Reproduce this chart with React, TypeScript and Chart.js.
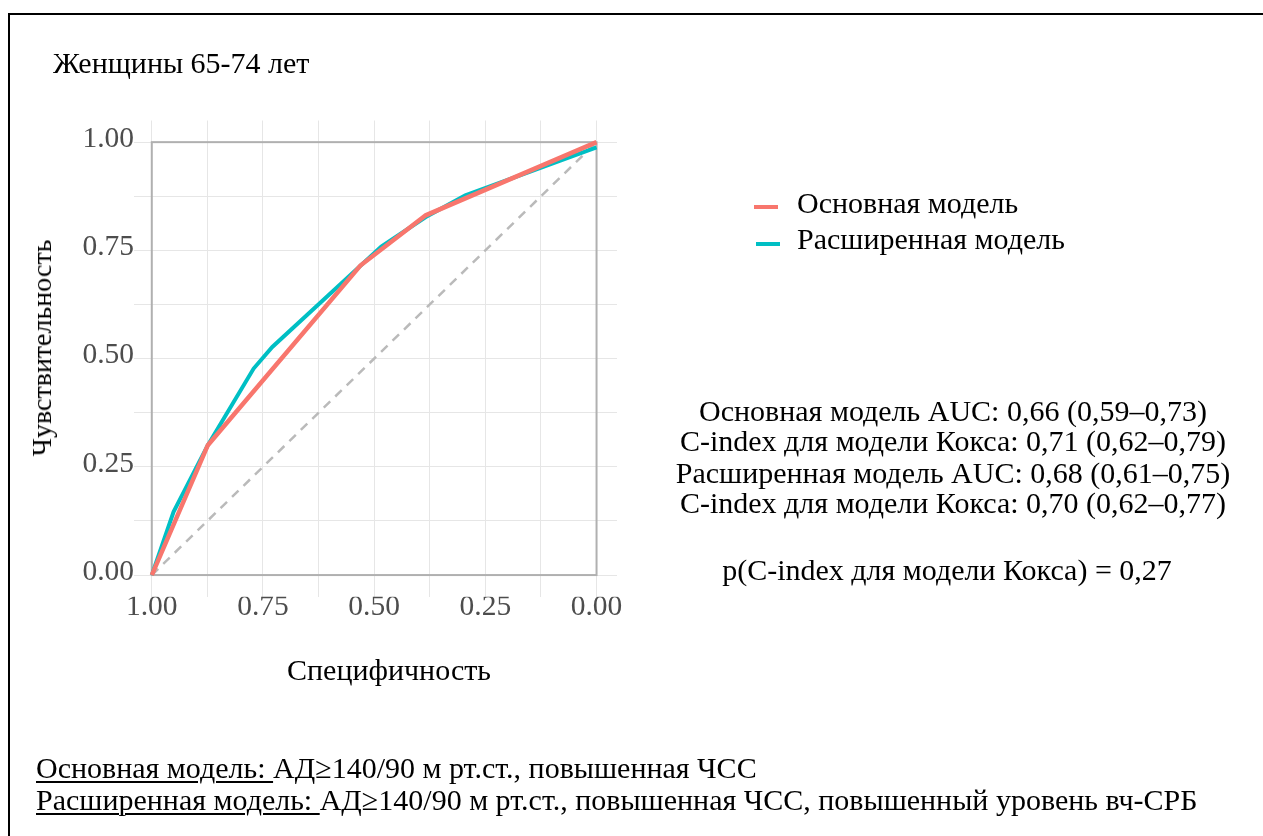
import React, { useEffect, useRef } from "react";
import { Chart, registerables } from "chart.js";

Chart.register(...registerables);

// ---- Data ----
const specBase = [1.0, 0.874, 0.531, 0.384, 0.0];
const sensBase = [0.0, 0.3, 0.715, 0.831, 1.0];

const specExt = [1.0, 0.951, 0.874, 0.771, 0.729, 0.484, 0.384, 0.295, 0.0];
const sensExt = [0.0, 0.146, 0.3, 0.477, 0.527, 0.759, 0.827, 0.877, 0.988];

const diagSpec = [1.0, 0.0];
const diagSens = [0.0, 1.0];

const tickValues = [0, 0.125, 0.25, 0.375, 0.5, 0.625, 0.75, 0.875, 1.0];
const labeledTicks = [0, 0.25, 0.5, 0.75, 1.0];

const seriesNames = ["Основная модель", "Расширенная модель"];
const seriesColors = ["#F8766D", "#00BFC4"];

const titleText = "Женщины 65-74 лет";
const xTitle = "Специфичность";
const yTitle = "Чувствительность";
const statLines = [
  "Основная модель AUC: 0,66 (0,59–0,73)",
  "C-index для модели Кокса: 0,71 (0,62–0,79)",
  "Расширенная модель AUC: 0,68 (0,61–0,75)",
  "C-index для модели Кокса: 0,70 (0,62–0,77)",
];
const pText = "p(C-index для модели Кокса) = 0,27";
const footLabels = ["Основная модель: ", "Расширенная модель: "];
const footTexts = [
  "АД≥140/90 м рт.ст., повышенная ЧСС",
  "АД≥140/90 м рт.ст., повышенная ЧСС, повышенный уровень вч-СРБ",
];

const FONT = '"Liberation Serif", "Times New Roman", serif';
const FS = 30;
const TICK_FS = 29.5;
const BASE = 0.8375 * FS;

const toPts = (xs: number[], ys: number[]) => xs.map((x, i) => ({ x, y: ys[i] }));

const framePlugin = {
  id: "frame",
  beforeDatasetsDraw(chart: any) {
    const { ctx, scales } = chart;
    const x0 = scales.x.getPixelForValue(1);
    const x1 = scales.x.getPixelForValue(0);
    const y0 = scales.y.getPixelForValue(0);
    const y1 = scales.y.getPixelForValue(1);
    ctx.save();
    ctx.strokeStyle = "#b0b0b0";
    ctx.lineWidth = 2;
    ctx.strokeRect(x0, y1, x1 - x0, y0 - y1);
    ctx.restore();
  },
};

export default function App() {
  const ref = useRef<HTMLCanvasElement>(null);

  useEffect(() => {
    document.body.style.margin = "0";
    document.body.style.overflow = "hidden";
    const setTicks = (scale: any) => {
      scale.ticks = tickValues.map((v) => ({ value: v }));
    };
    const label = (v: any) => {
      const n = Number(v);
      return labeledTicks.some((t) => Math.abs(t - n) < 1e-6) ? n.toFixed(2) : "";
    };
    const chart = new Chart(ref.current as HTMLCanvasElement, {
      type: "line",
      data: {
        datasets: [
          {
            label: seriesNames[0],
            data: toPts(specBase, sensBase),
            borderColor: seriesColors[0],
            borderWidth: 4.5,
            pointRadius: 0,
            tension: 0,
          },
          {
            label: seriesNames[1],
            data: toPts(specExt, sensExt),
            borderColor: seriesColors[1],
            borderWidth: 4,
            pointRadius: 0,
            tension: 0,
          },
          {
            label: "diag",
            data: toPts(diagSpec, diagSens),
            borderColor: "#bababa",
            borderWidth: 2.5,
            borderDash: [9, 7],
            pointRadius: 0,
          },
        ],
      },
      options: {
        responsive: false,
        animation: false,
        layout: { padding: { left: 0, top: 120.5, right: 1263 - 617, bottom: 0 } },
        plugins: { legend: { display: false }, tooltip: { enabled: false } },
        scales: {
          x: {
            type: "linear",
            reverse: true,
            min: -0.046,
            max: 1.04,
            afterBuildTicks: setTicks,
            afterFit: (s: any) => {
              s.height = 836 - 596.7;
            },
            border: { display: false },
            grid: { color: "#e6e6e6", lineWidth: 1, drawTicks: false },
            ticks: {
              callback: label,
              autoSkip: false,
              maxRotation: 0,
              padding: -4.5,
              color: "#4d4d4d",
              font: { family: FONT, size: TICK_FS, lineHeight: 1 },
            },
          },
          y: {
            type: "linear",
            min: -0.05,
            max: 1.05,
            afterBuildTicks: setTicks,
            afterFit: (s: any) => {
              s.width = 134;
            },
            border: { display: false },
            grid: { color: "#e6e6e6", lineWidth: 1, drawTicks: false },
            ticks: {
              callback: label,
              autoSkip: false,
              padding: 0,
              labelOffset: -3,
              color: "#4d4d4d",
              font: { family: FONT, size: TICK_FS },
            },
          },
        },
      },
      plugins: [framePlugin],
    });
    return () => chart.destroy();
  }, []);

  const txt = (extra: React.CSSProperties): React.CSSProperties => ({
    position: "absolute",
    whiteSpace: "nowrap",
    fontSize: FS,
    lineHeight: `${FS}px`,
    color: "#000",
    ...extra,
  });

  const statBaselines = [421, 451, 483, 513];

  return (
    <div
      style={{
        position: "relative",
        width: 1263,
        height: 836,
        overflow: "hidden",
        background: "#fff",
        fontFamily: FONT,
      }}
    >
      <div
        style={{
          position: "absolute",
          left: 8,
          top: 13,
          width: 1320,
          height: 900,
          border: "2px solid #000",
          boxSizing: "border-box",
        }}
      />
      <canvas
        ref={ref}
        width={1263}
        height={836}
        style={{ position: "absolute", left: 0, top: 0, width: 1263, height: 836 }}
      />
      <div style={txt({ left: 53, top: 73 - BASE })}>{titleText}</div>

      {seriesNames.map((n, i) => (
        <React.Fragment key={n}>
          <div
            style={{
              position: "absolute",
              left: 754 + i * 2,
              top: (i === 0 ? 207 : 244) - 2,
              width: 24,
              height: 4,
              background: seriesColors[i],
            }}
          />
          <div style={txt({ left: 797, top: (i === 0 ? 212.7 : 249) - BASE })}>{n}</div>
        </React.Fragment>
      ))}

      {statLines.map((s, i) => (
        <div
          key={i}
          style={txt({ left: 953 - 400, width: 800, textAlign: "center", top: statBaselines[i] - BASE })}
        >
          {s}
        </div>
      ))}
      <div style={txt({ left: 947 - 400, width: 800, textAlign: "center", top: 580 - BASE })}>{pText}</div>

      <div style={txt({ left: 389, top: 670, transform: "translate(-50%, -50%)" })}>{xTitle}</div>
      <div
        style={txt({
          left: 42,
          top: 348,
          fontSize: 28,
          lineHeight: "28px",
          transform: "translate(-50%, -50%) rotate(-90deg)",
        })}
      >
        {yTitle}
      </div>

      {footLabels.map((l, i) => (
        <div key={l} style={txt({ left: 36, top: (i === 0 ? 778 : 810) - BASE })}>
          <span style={{ textDecoration: "underline", textDecorationThickness: "2px", textUnderlineOffset: "3px" }}>
            {l}
          </span>
          {footTexts[i]}
        </div>
      ))}
    </div>
  );
}
